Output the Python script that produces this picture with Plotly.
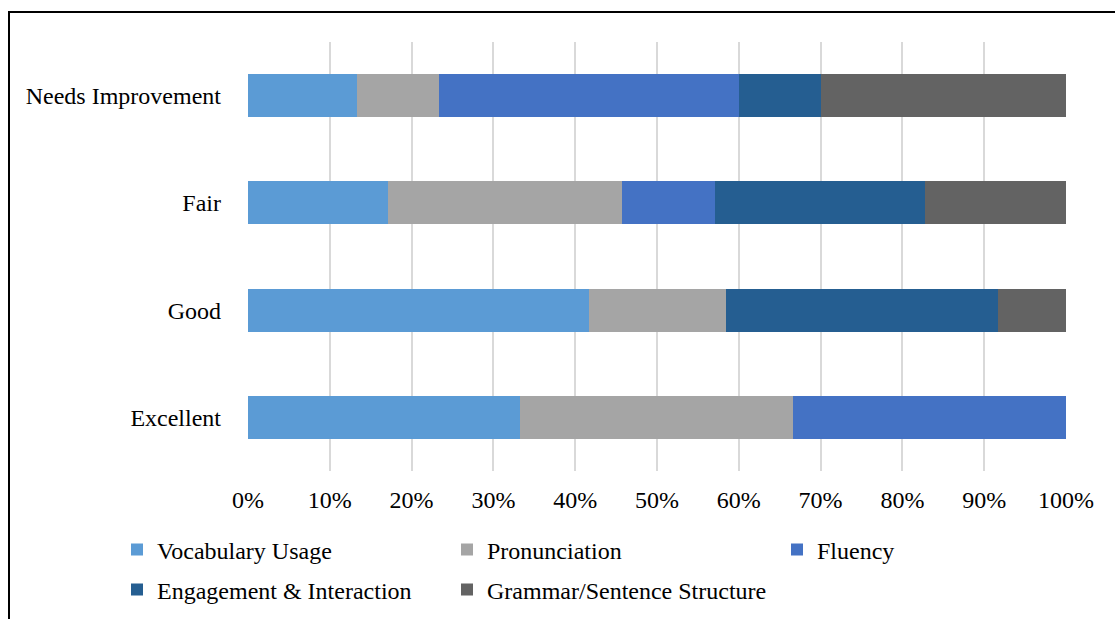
import plotly.graph_objects as go

categories = ["Excellent", "Good", "Fair", "Needs Improvement"]
vocabulary = [33.3, 41.7, 17.1, 13.3]
pronunciation = [33.3, 16.7, 28.6, 10.0]
fluency = [33.4, 0.0, 11.4, 36.7]
engagement = [0.0, 33.3, 25.7, 10.0]
grammar = [0.0, 8.3, 17.2, 30.0]
tick_vals = [0, 10, 20, 30, 40, 50, 60, 70, 80, 90, 100]
tick_text = ["0%", "10%", "20%", "30%", "40%", "50%", "60%", "70%", "80%", "90%", "100%"]

series = [
    ("Vocabulary Usage", vocabulary, "#5B9BD5"),
    ("Pronunciation", pronunciation, "#A5A5A5"),
    ("Fluency", fluency, "#4472C4"),
    ("Engagement & Interaction", engagement, "#255E91"),
    ("Grammar/Sentence Structure", grammar, "#636363"),
]
# legend slot (left px, centre px) for each series, in a 3-column grid
legend_slots = [(117, 550), (447, 550), (777, 550), (117, 590), (447, 590)]

FONT = "Liberation Serif"
FS = 24
W, H = 1115, 619
L, R, T, B = 248, 49, 42, 148
pw, ph = W - L - R, H - T - B

def px_x(px):
    return (px - L) / pw

def px_y(py):
    return (H - B - py) / ph

fig = go.Figure()
layout_legends = {}
for i, (name, vals, color) in enumerate(series):
    key = "legend" if i == 0 else f"legend{i + 1}"
    fig.add_trace(go.Bar(
        y=categories, x=vals, name=name, orientation="h",
        marker=dict(color=color, line=dict(width=0)),
        legend=key,
    ))
    lx, ly = legend_slots[i]
    layout_legends[key] = dict(
        orientation="h", xref="container", yref="container",
        x=lx / W, y=1 - ly / H, xanchor="left", yanchor="middle",
        font=dict(family=FONT, size=FS, color="#000000"),
        bgcolor="rgba(0,0,0,0)")

fig.update_layout(
    width=W, height=H,
    margin=dict(l=L, r=R, t=T, b=B, autoexpand=False),
    barmode="stack", bargap=0.6,
    plot_bgcolor="white", paper_bgcolor="white",
    font=dict(family=FONT, size=FS, color="#000000"),
    xaxis=dict(range=[0, 100], tickvals=tick_vals, ticktext=tick_text,
               showgrid=True, gridcolor="#D9D9D9", gridwidth=1.5,
               zeroline=False, showline=False, ticks="",
               ticklabelstandoff=12, fixedrange=True),
    yaxis=dict(categoryorder="array", categoryarray=categories,
               showgrid=False, zeroline=False, showline=False, ticks="",
               ticklabelstandoff=26, fixedrange=True),
    showlegend=True,
    shapes=[dict(type="rect", xref="paper", yref="paper",
                 x0=px_x(9), x1=px_x(1130), y0=px_y(640), y1=px_y(12),
                 line=dict(color="black", width=2), fillcolor="rgba(0,0,0,0)",
                 layer="below")],
    **layout_legends,
)

fig.write_html("out.html")
